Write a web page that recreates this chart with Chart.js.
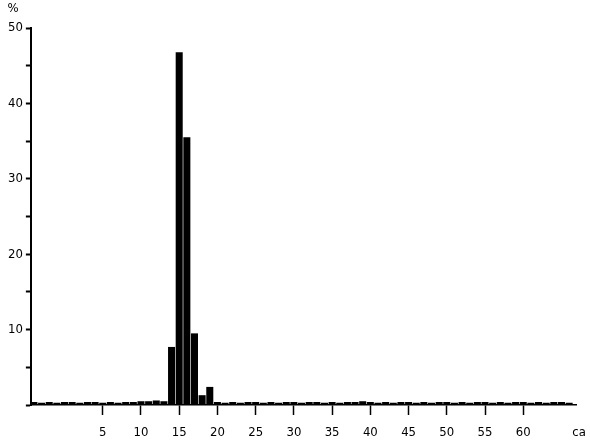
<!DOCTYPE html>
<html>
<head>
<meta charset="utf-8">
<script src="https://cdn.jsdelivr.net/npm/chart.js@4/dist/chart.umd.min.js"></script>
<style>
  html, body { margin: 0; padding: 0; background: #fff; }
  #wrap { width: 590px; height: 442px; position: relative; }
</style>
</head>
<body>
<div id="wrap"><canvas id="histo"></canvas></div>
<script>
// --- DATA ---
// bin centres (ca), one per unit
const binCentres = [];
for (let v = -4; v <= 66; v++) binCentres.push(v);

// share of samples per bin, %
const binShares = [
  0.4, 0.3, 0.4, 0.3, 0.4, 0.4, 0.3, 0.4, 0.4, 0.3,   // -4 .. 5
  0.4, 0.3, 0.4, 0.4, 0.5, 0.5, 0.6, 0.5, 7.7, 46.8,  // 6 .. 15
  35.5, 9.5, 1.3, 2.4, 0.4, 0.3, 0.4, 0.3, 0.4, 0.4,  // 16 .. 25
  0.3, 0.4, 0.3, 0.4, 0.4, 0.3, 0.4, 0.4, 0.3, 0.4,   // 26 .. 35
  0.3, 0.4, 0.4, 0.5, 0.4, 0.3, 0.4, 0.3, 0.4, 0.4,   // 36 .. 45
  0.3, 0.4, 0.3, 0.4, 0.4, 0.3, 0.4, 0.3, 0.4, 0.4,   // 46 .. 55
  0.3, 0.4, 0.3, 0.4, 0.4, 0.3, 0.4, 0.3, 0.4, 0.4,   // 56 .. 65
  0.3                                                   // 66
];

const xTickLabels = [5, 10, 15, 20, 25, 30, 35, 40, 45, 50, 55, 60];
const yTickLabels = [10, 20, 30, 40, 50];

const yTitle = '%';
const xTitle = 'ca';

// --- CHART ---
const FONT = { family: 'DejaVu Sans Condensed', size: 13, lineHeight: 1.2 };

// axis captions at the ends of the axes
const axisCaptions = {
  id: 'axisCaptions',
  afterDraw(chart) {
    const { ctx } = chart;
    ctx.save();
    ctx.fillStyle = '#000';
    ctx.font = `${FONT.size}px ${FONT.family}`;
    ctx.textAlign = 'center';
    ctx.textBaseline = 'middle';
    ctx.fillText(yTitle, 13, 9);
    ctx.fillText(xTitle, 579, chart.scales.x.top + 28);
    ctx.restore();
  }
};

new Chart(document.getElementById('histo'), {
  type: 'bar',
  data: {
    datasets: [{
      data: binCentres.map((c, i) => ({ x: c, y: binShares[i] })),
      backgroundColor: '#000',
      borderWidth: 0,
      barPercentage: 0.92,
      categoryPercentage: 1.0
    }]
  },
  options: {
    responsive: true,
    maintainAspectRatio: false,
    animation: false,
    layout: { padding: { top: 28, right: 14, bottom: 0, left: 5 } },
    plugins: { legend: { display: false }, tooltip: { enabled: false } },
    scales: {
      x: {
        type: 'linear',
        min: -4.4,
        max: 66.9,
        offset: false,
        afterFit: s => { s.height = 37; },
        grid: {
          offset: false,
          drawOnChartArea: false,
          drawTicks: true,
          tickLength: 10,
          tickWidth: 1.5,
          color: c => xTickLabels.includes(c.tick && c.tick.value) ? '#000' : 'rgba(0,0,0,0)'
        },
        border: { color: '#000', width: 1.5 },
        ticks: {
          stepSize: 5,
          autoSkip: false,
          maxRotation: 0,
          color: '#000',
          font: FONT,
          padding: 10,
          callback: v => xTickLabels.includes(v) ? String(v) : ''
        }
      },
      y: {
        min: 0,
        max: 50,
        grid: {
          drawOnChartArea: false,
          drawTicks: true,
          tickLength: 5,
          tickWidth: 2,
          color: '#000'
        },
        border: { color: '#000', width: 2 },
        ticks: {
          stepSize: 5,
          autoSkip: false,
          color: '#000',
          font: FONT,
          padding: 3,
          callback: v => yTickLabels.includes(v) ? String(v) : ''
        }
      }
    }
  },
  plugins: [axisCaptions]
});
</script>
</body>
</html>
